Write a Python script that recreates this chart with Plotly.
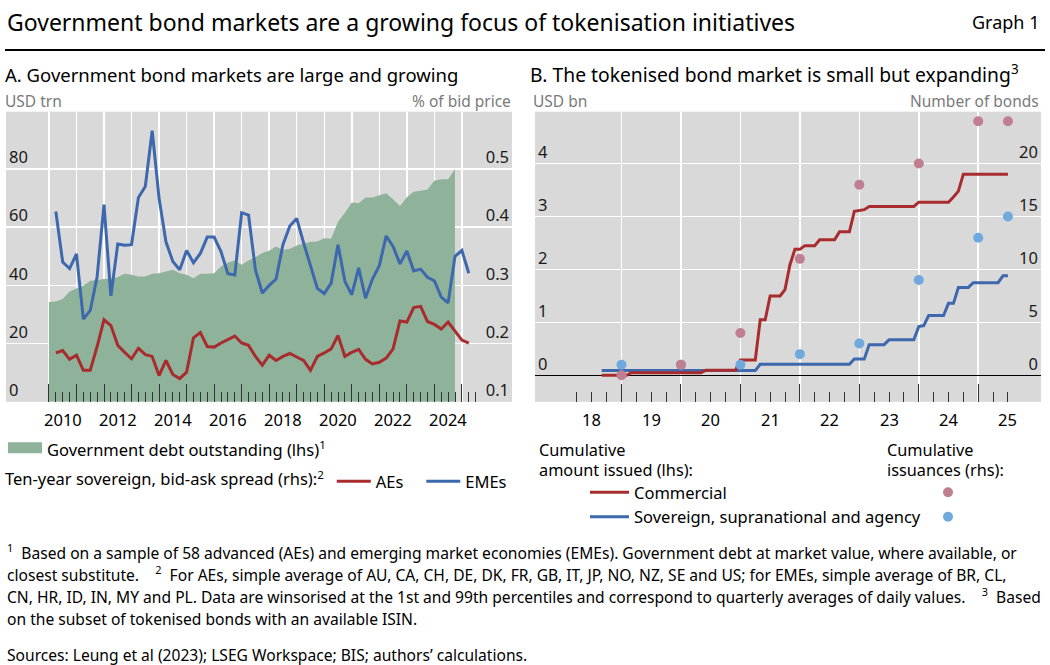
import plotly.graph_objects as go

W, H = 1050, 665
FONT = "Noto Sans"

# ---------------- Panel A data (quarterly) ----------------
debt_start = (2009, 4)          # first quarter of the debt series
gov_debt = [34.3, 34.5, 35.3, 37.9, 38.9, 39.9, 41.6, 41.9, 42.2, 42.3,
            42.9, 44.0, 43.7, 43.1, 43.1, 44.0, 44.2, 44.8, 45.4, 44.2,
            43.7, 42.5, 44.0, 44.0, 44.2, 46.5, 47.9, 48.6, 47.1, 48.6,
            49.7, 51.1, 51.9, 53.4, 52.2, 52.6, 53.7, 54.3, 55.0, 55.1,
            56.2, 56.0, 61.9, 65.0, 68.5, 68.2, 70.2, 70.2, 71.0, 71.7,
            69.6, 67.3, 70.3, 72.2, 72.5, 73.0, 76.0, 76.5, 76.5, 80.0]

spread_start = (2010, 1)
aes_spread = [0.184, 0.188, 0.173, 0.180, 0.154, 0.154, 0.195, 0.241, 0.231, 0.197,
              0.185, 0.174, 0.192, 0.181, 0.178, 0.145, 0.171, 0.147, 0.140, 0.151,
              0.210, 0.219, 0.195, 0.194, 0.201, 0.207, 0.213, 0.201, 0.197, 0.178,
              0.163, 0.180, 0.171, 0.178, 0.183, 0.177, 0.171, 0.154, 0.178, 0.184,
              0.191, 0.214, 0.178, 0.185, 0.190, 0.173, 0.165, 0.168, 0.175, 0.191,
              0.239, 0.237, 0.262, 0.264, 0.238, 0.233, 0.225, 0.237, 0.221, 0.206,
              0.201]
emes_spread = [0.427, 0.340, 0.329, 0.354, 0.242, 0.257, 0.315, 0.439, 0.282, 0.371,
               0.369, 0.370, 0.451, 0.470, 0.566, 0.450, 0.375, 0.341, 0.327, 0.360,
               0.339, 0.355, 0.383, 0.383, 0.358, 0.320, 0.318, 0.425, 0.421, 0.327,
               0.287, 0.300, 0.311, 0.370, 0.402, 0.415, 0.373, 0.335, 0.295, 0.286,
               0.304, 0.370, 0.307, 0.284, 0.330, 0.278, 0.311, 0.334, 0.385, 0.367,
               0.337, 0.359, 0.325, 0.328, 0.314, 0.308, 0.280, 0.270, 0.350, 0.360,
               0.321]

a_years = list(range(2010, 2026))
a_year_labels = ["2010", "2012", "2014", "2016", "2018", "2020", "2022", "2024"]
a_left_ticks = [0, 20, 40, 60, 80]
a_right_ticks = [0.1, 0.2, 0.3, 0.4, 0.5]

# ---------------- Panel B data (monthly) ----------------
token_start = (2018, 8)         # first month-end of the amount series
commercial_amt = [0, 0, 0, 0, 0, 0,
                  0.05, 0.05, 0.05, 0.05, 0.05, 0.05, 0.05, 0.05, 0.05, 0.05,
                  0.05, 0.05, 0.05, 0.05, 0.05,
                  0.095, 0.095, 0.095, 0.095, 0.095, 0.095, 0.095,
                  0.29, 0.29, 0.29, 0.29,
                  1.05, 1.05,
                  1.50, 1.50, 1.50,
                  1.62, 2.09, 2.38, 2.38,
                  2.45, 2.45, 2.45,
                  2.56, 2.56, 2.56, 2.56,
                  2.71, 2.71, 2.71,
                  3.10, 3.12, 3.13,
                  3.19, 3.19, 3.19, 3.19, 3.19, 3.19, 3.19, 3.19, 3.19, 3.19,
                  3.27, 3.27, 3.27, 3.27, 3.27, 3.27, 3.27,
                  3.37, 3.48,
                  3.80, 3.80, 3.80, 3.80, 3.80, 3.80, 3.80, 3.80, 3.80, 3.80]
ssa_amt = [0.09, 0.09, 0.09, 0.09, 0.09, 0.09, 0.09, 0.09, 0.09, 0.09,
           0.09, 0.09, 0.09, 0.09, 0.09, 0.09, 0.09, 0.09, 0.09, 0.09,
           0.09, 0.09, 0.09, 0.09, 0.09, 0.09, 0.09, 0.09, 0.09, 0.09,
           0.09, 0.09,
           0.21, 0.21, 0.21, 0.21, 0.21, 0.21, 0.21, 0.21, 0.21, 0.21,
           0.21, 0.21, 0.21, 0.21, 0.21, 0.21, 0.21, 0.21, 0.21,
           0.31, 0.31, 0.31,
           0.58, 0.58, 0.58, 0.58,
           0.67, 0.67, 0.67, 0.67, 0.67, 0.67,
           0.92, 0.94,
           1.13, 1.13, 1.13, 1.13,
           1.36, 1.36,
           1.66, 1.66, 1.66,
           1.75, 1.75, 1.75, 1.75, 1.75, 1.75,
           1.88, 1.88]

count_dates = ["2018-12", "2019-12", "2020-12", "2021-12", "2022-12",
               "2023-12", "2024-12", "2025-06"]
commercial_count = [0, 1, 4, 11, 18, 20, 24, 24]
ssa_count = [1, 1, 1, 2, 3, 9, 13, 15]

b_years = list(range(2019, 2026))
b_label_years = list(range(2018, 2026))
b_year_labels = ["18", "19", "20", "21", "22", "23", "24", "25"]
b_left_ticks = [0, 1, 2, 3, 4]
b_right_ticks = [0, 5, 10, 15, 20]

# ---------------- colours ----------------
GREEN = "#8fb29a"
RED = "#a82c2e"
BLUE = "#3d68ad"
PINK = "#c07f90"
LBLUE = "#6fa9de"
BG = "#d9d9d9"
TICK = "#333333"
NB = "\u00a0"


def quarter_ends(start, n):
    y, q = start
    return [y + (q + k) / 4 for k in range(n)]


def month_ends(start, n):
    y, m = start
    return [y + (m + k) / 12 for k in range(n)]


def month_end(s):
    y, m = s.split("-")
    return int(y) + int(m) / 12


def px(x):
    return x / W


def py(y):
    return 1 - y / H


debt_x = quarter_ends(debt_start, len(gov_debt))
spread_x = quarter_ends(spread_start, len(aes_spread))
token_x = month_ends(token_start, len(commercial_amt))
count_x = [month_end(d) for d in count_dates]

a_minor = [y + q / 4 for y in range(2010, 2026) for q in (1, 2, 3) if y + q / 4 <= 2025.5]
b_minor = [y + q / 4 for y in range(2018, 2026) for q in (1, 2, 3) if y + q / 4 <= 2025.5]

fig = go.Figure()

# Panel A
fig.add_trace(go.Scatter(x=debt_x, y=gov_debt, fill="tozeroy", mode="none",
                         fillcolor=GREEN, showlegend=False, xaxis="x", yaxis="y",
                         hoverinfo="skip"))
# legend key for the area (fill + thick line gives a block-shaped key)
fig.add_trace(go.Scatter(x=[None], y=[None], fill="tozeroy", mode="lines",
                         fillcolor=GREEN, line=dict(color=GREEN, width=10),
                         name="Government debt outstanding (lhs)<sup>1</sup>",
                         legend="legend", showlegend=True, xaxis="x", yaxis="y"))
fig.add_trace(go.Scatter(x=spread_x, y=aes_spread, mode="lines",
                         line=dict(color=RED, width=3), name="AEs" + NB * 3,
                         legend="legend2", xaxis="x", yaxis="y2"))
fig.add_trace(go.Scatter(x=spread_x, y=emes_spread, mode="lines",
                         line=dict(color=BLUE, width=3), name="EMEs",
                         legend="legend2", xaxis="x", yaxis="y2"))

# Panel B
fig.add_trace(go.Scatter(x=token_x, y=ssa_amt, mode="lines",
                         line=dict(color=BLUE, width=3),
                         name="Sovereign, supranational and agency",
                         legend="legend3", legendrank=2, xaxis="x2", yaxis="y3"))
fig.add_trace(go.Scatter(x=token_x, y=commercial_amt, mode="lines",
                         line=dict(color=RED, width=3), name="Commercial",
                         legend="legend3", legendrank=1, xaxis="x2", yaxis="y3"))
fig.add_trace(go.Scatter(x=count_x, y=ssa_count, mode="markers",
                         marker=dict(color=LBLUE, size=10), name=NB,
                         legend="legend4", legendrank=2, xaxis="x2", yaxis="y4"))
fig.add_trace(go.Scatter(x=count_x, y=commercial_count, mode="markers",
                         marker=dict(color=PINK, size=10), name=NB,
                         legend="legend4", legendrank=1, xaxis="x2", yaxis="y4"))

tickfont = dict(family=FONT, size=16.5, color="#1a1a1a")
LEGFONT = dict(family=FONT, size=16.5, color="#000")
plot_top, plot_bot = 111.7, 401.8

xa_common = dict(tickmode="array", ticks="inside", ticklen=18, tickwidth=1,
                 tickcolor=TICK, showticklabels=False, showgrid=True,
                 gridcolor="white", gridwidth=1.5, zeroline=False, showline=False,
                 fixedrange=True)
ya_common = dict(tickmode="array", ticks="", ticklabelposition="inside top",
                 tickfont=tickfont, showline=False, fixedrange=True)

fig.update_layout(
    width=W, height=H,
    showlegend=True,
    margin=dict(l=0, r=0, t=0, b=0),
    paper_bgcolor="white", plot_bgcolor=BG,
    font=dict(family=FONT, size=16, color="#000"),
    xaxis=dict(domain=[px(6), px(512)], range=[2008.44, 2026.82], anchor="y",
               tickvals=a_years,
               minor=dict(tickvals=a_minor, ticks="inside", ticklen=10,
                          tickcolor=TICK, tickwidth=1, showgrid=False),
               **xa_common),
    yaxis=dict(domain=[py(plot_bot), py(plot_top)], range=[0, 99.7], anchor="x",
               tickvals=a_left_ticks, showgrid=True, gridcolor="white",
               gridwidth=1.5, zeroline=False, **ya_common),
    yaxis2=dict(overlaying="y", side="right", anchor="x", range=[0.1, 0.5985],
                tickvals=a_right_ticks, tickformat=".1f", showgrid=False,
                zeroline=False, **ya_common),
    xaxis2=dict(domain=[px(535), px(1041)], range=[2017.545, 2026.056], anchor="y3",
                tickvals=b_years,
                minor=dict(tickvals=b_minor, ticks="inside", ticklen=10,
                           tickcolor=TICK, tickwidth=1, showgrid=False),
                **xa_common),
    yaxis3=dict(domain=[py(plot_bot), py(plot_top)], range=[-0.5, 4.98], anchor="x2",
                tickvals=b_left_ticks, showgrid=True, gridcolor="white",
                gridwidth=1.5, zeroline=True, zerolinecolor="black",
                zerolinewidth=1.2, **ya_common),
    yaxis4=dict(overlaying="y3", side="right", anchor="x2", range=[-2.5, 24.9],
                tickvals=b_right_ticks, showgrid=False, zeroline=False, **ya_common),
    legend=dict(x=px(3), y=py(432), xanchor="left", yanchor="top",
                orientation="h", bgcolor="rgba(0,0,0,0)", itemwidth=34,
                font=LEGFONT),
    legend2=dict(x=px(3), y=py(464), xanchor="left", yanchor="top",
                 orientation="h", bgcolor="rgba(0,0,0,0)", itemwidth=34,
                 title=dict(text="Ten-year sovereign, bid-ask spread (rhs):<sup>2</sup>",
                            side="left", font=LEGFONT),
                 font=LEGFONT),
    legend3=dict(x=px(585), y=py(475), xanchor="left", yanchor="top",
                 orientation="v", bgcolor="rgba(0,0,0,0)", tracegroupgap=0,
                 itemwidth=39, font=LEGFONT),
    legend4=dict(x=px(928), y=py(475), xanchor="left", yanchor="top",
                 orientation="v", bgcolor="rgba(0,0,0,0)", tracegroupgap=0,
                 font=LEGFONT),
)

ann = []


def text(x, y, s, size=16.5, color="#000", xanchor="left", yanchor="middle", xref="paper"):
    ann.append(dict(x=x, y=y, xref=xref, yref="paper", text=s, showarrow=False,
                    xanchor=xanchor, yanchor=yanchor, align="left",
                    font=dict(family=FONT, size=size, color=color)))


text(px(5), py(22), "Government bond markets are a growing focus of tokenisation initiatives", size=23)
text(px(1041), py(22), "Graph 1", size=18, xanchor="right")
text(px(3), py(74), "A. Government bond markets are large and growing", size=18.5)
text(px(528), py(74), "B. The tokenised bond market is small but expanding<sup>3</sup>", size=19.3)
text(px(3), py(101), "USD trn", size=15.5, color="#7a7a7a")
text(px(513), py(101), "% of bid price", size=15.5, color="#7a7a7a", xanchor="right")
text(px(531), py(101), "USD bn", size=15.5, color="#7a7a7a")
text(px(1041), py(101), "Number of bonds", size=15.5, color="#7a7a7a", xanchor="right")

for lab in a_year_labels:
    text(int(lab) + 0.5, py(419), lab, xanchor="center", xref="x")
for yr, lab in zip(b_label_years, b_year_labels):
    text(yr + 0.5, py(419), lab, xanchor="center", xref="x2")

# legend headings (two lines each)
text(px(537), py(450), "Cumulative", size=16.3)
text(px(537), py(470), "amount issued (lhs):", size=16.3)
text(px(885), py(450), "Cumulative", size=16.3)
text(px(885), py(470), "issuances (rhs):", size=16.3)

foot = [
    f"<sup>1</sup>{NB*2}Based on a sample of 58 advanced (AEs) and emerging market economies (EMEs). Government debt at market value, where available, or",
    f"closest substitute.{NB*4}<sup>2</sup>{NB*2}For AEs, simple average of AU, CA, CH, DE, DK, FR, GB, IT, JP, NO, NZ, SE and US; for EMEs, simple average of BR, CL,",
    f"CN, HR, ID, IN, MY and PL. Data are winsorised at the 1st and 99th percentiles and correspond to quarterly averages of daily values.{NB*4}<sup>3</sup>{NB*2}Based",
    "on the subset of tokenised bonds with an available ISIN.",
]
for i, line in enumerate(foot):
    text(px(5), py(552 + 22.2 * i), line, size=15.6)
text(px(5), py(655), "Sources: Leung et al (2023); LSEG Workspace; BIS; authors’ calculations.", size=15.6)

fig.update_layout(annotations=ann)
fig.add_shape(type="line", xref="paper", yref="paper", x0=px(5), x1=px(1045),
              y0=py(50), y1=py(50), line=dict(color="black", width=2))

fig.write_html("out.html", config={"displayModeBar": False, "staticPlot": True},
               post_script="document.body.style.margin='0';")
